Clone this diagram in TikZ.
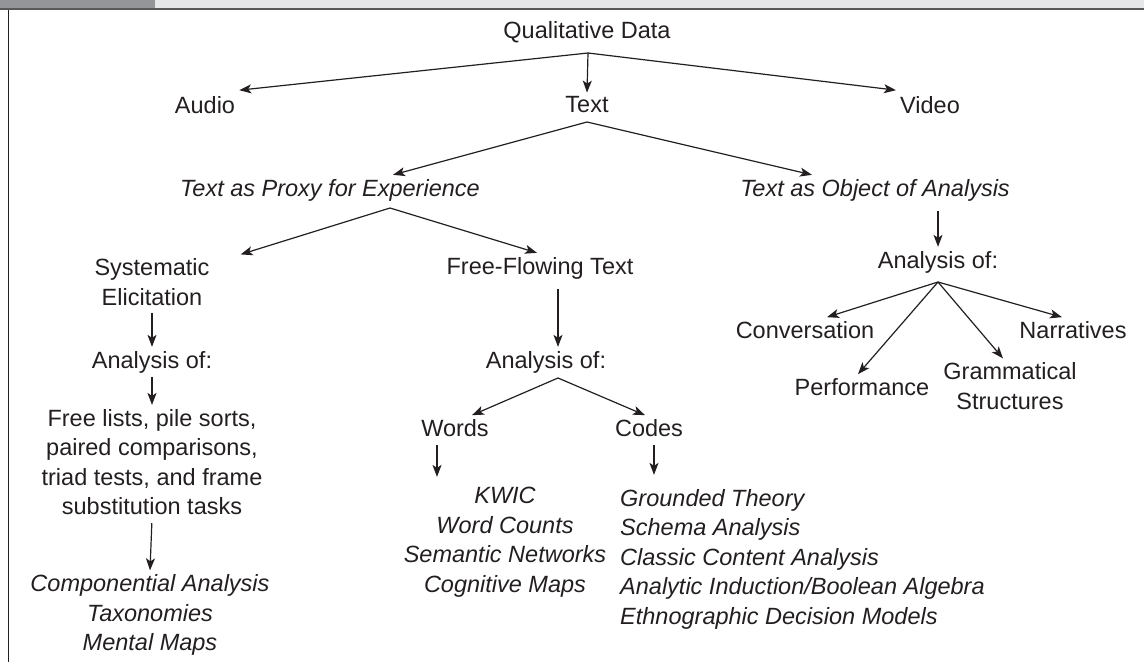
\documentclass[tikz,border=0pt]{standalone}
\usepackage{fontspec}
\setmainfont{Liberation Sans}
\usetikzlibrary{arrows.meta}
\definecolor{barDark}{HTML}{939598}
\definecolor{barLight}{HTML}{E6E7E8}
\definecolor{ruleGray}{HTML}{58595B}
\definecolor{ink}{HTML}{231F20}
\tikzset{
  lbl/.style={font=\fontsize{23.5}{29.5}\selectfont, text=ink, inner sep=4pt, align=center},
  ital/.style={lbl, font=\fontsize{23.5}{29.5}\selectfont\itshape},
  arr/.style={draw=ink, line width=1.2pt, -{Stealth[length=12pt,width=9pt,inset=3pt]}},
}
\begin{document}
\begin{tikzpicture}[x=1pt, y=-1pt]
  \useasboundingbox (0,0) rectangle (1144,662);
  % header bar and frame
  \fill[barDark] (0,0) rectangle (155,8);
  \fill[barLight] (155,0) rectangle (1144,8);
  \fill[ruleGray] (0,8) rectangle (1144,10);
  \draw[ink, line width=1pt] (8.5,10) -- (8.5,662);

  % top level
  \node[lbl] (qd) at (587,32) {Qualitative Data};
  \node[lbl] (audio) at (205,105) {Audio};
  \node[lbl] (text) at (587,105) {Text};
  \node[lbl] (video) at (930,105) {Video};
  \coordinate (qd-split) at (588,53);
  \draw[arr] (qd-split) -- ([yshift=2pt]audio.north east);
  \draw[arr] (qd-split) -- (text.north);
  \draw[arr] (qd-split) -- ([yshift=2pt]video.north west);

  % text branches
  \node[ital] (proxy) at (330,190) {Text as Proxy for Experience};
  \node[ital] (object) at (875,190) {Text as Object of Analysis};
  \coordinate (text-split) at (587,122);
  \draw[arr] (text-split) -- ([xshift=63pt]proxy.north);
  \draw[arr] (text-split) -- ([xshift=-63pt]object.north);

  % proxy for experience
  \node[lbl] (syst) at (152,282) {Systematic\\Elicitation};
  \node[lbl] (free) at (540,268) {Free-Flowing Text};
  \coordinate (proxy-split) at (390,208);
  \draw[arr] (proxy-split) -- ([xshift=27pt]syst.north east);
  \draw[arr] (proxy-split) -- ([xshift=-3pt]free.north);

  % systematic elicitation column
  \node[lbl] (ana1) at (152,362) {Analysis of:};
  \node[lbl] (lists) at (152,462) {Free lists, pile sorts,\\paired comparisons,\\triad tests, and frame\\substitution tasks};
  \node[ital] (comp) at (150,615) {Componential Analysis\\Taxonomies\\Mental Maps};
  \draw[arr, shorten <=3pt] (syst.south) -- (ana1.north);
  \draw[arr] (ana1.south) -- (lists.north);
  \draw[arr, shorten <=4pt] (lists.south) -- (comp.north);

  % free-flowing text column
  \node[lbl] (ana2) at (546,362) {Analysis of:};
  \coordinate (ana2-split) at (558,378);
  \draw[arr, shorten <=6pt] (free.south -| ana2-split) -- (ana2.north -| ana2-split);
  \node[lbl] (words) at (455,428) {Words};
  \node[lbl] (codes) at (649,428) {Codes};
  \draw[arr] (ana2-split) -- ([xshift=17pt]words.north);
  \draw[arr] (ana2-split) -- ([xshift=-4pt]codes.north);
  \node[ital] (wordlist) at (505,542) {KWIC\\Word Counts\\Semantic Networks\\Cognitive Maps};
  \node[ital, align=left, anchor=west] (codelist) at (616,559) {Grounded Theory\\Schema Analysis\\Classic Content Analysis\\Analytic Induction/Boolean Algebra\\Ethnographic Decision Models};
  \draw[arr, shorten <=4pt, shorten >=6pt] ([xshift=-18pt]words.south) -- ([xshift=-18pt]words.south |- wordlist.north);
  \draw[arr, shorten <=4pt, shorten >=10pt] ([xshift=5pt]codes.south) -- ([xshift=5pt]codes.south |- codelist.north);

  % object of analysis column
  \node[lbl] (ana3) at (938,262) {Analysis of:};
  \draw[arr, shorten <=6pt] (object.south -| ana3.north) -- (ana3.north);
  \coordinate (ana3-split) at (938,282);
  \node[lbl] (conv) at (805,330) {Conversation};
  \node[lbl] (narr) at (1073,330) {Narratives};
  \node[lbl] (perf) at (862,387) {Performance};
  \node[lbl] (gram) at (1010,386) {Grammatical\\Structures};
  \draw[arr] (ana3-split) -- ([xshift=22pt]conv.north);
  \draw[arr] (ana3-split) -- ([xshift=-4pt]perf.north);
  \draw[arr] (ana3-split) -- ([xshift=-7pt]gram.north);
  \draw[arr] (ana3-split) -- ([xshift=-11pt]narr.north);
\end{tikzpicture}
\end{document}
